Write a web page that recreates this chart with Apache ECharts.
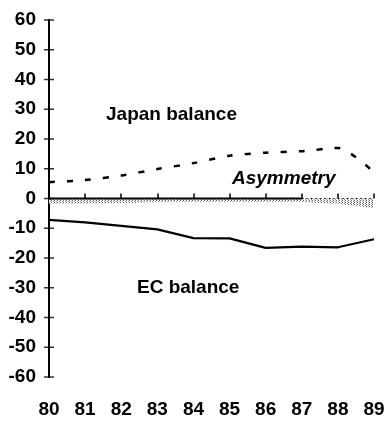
<!DOCTYPE html>
<html>
<head>
<meta charset="utf-8">
<script src="https://cdn.jsdelivr.net/npm/echarts@6/dist/echarts.min.js"></script>
<style>
html,body{margin:0;padding:0;background:#fff;}
#chart{width:390px;height:422px;}
</style>
</head>
<body>
<div id="chart"></div>
<script>
var years = ['80','81','82','83','84','85','86','87','88','89'];
var japanBalance = [5.5, 6.2, 7.7, 9.9, 11.9, 14.4, 15.4, 15.9, 17.0, 8.8];
var ecBalance = [-7.2, -8.0, -9.2, -10.4, -13.3, -13.4, -16.6, -16.2, -16.4, -13.7];
var asymmetry = [-1.7, -1.7, -1.5, -1.3, -1.2, -1.2, -1.2, -1.2, -1.8, -3.2];
var zeroSolid = [0, 0, 0, 0, 0, 0, 0, 0, null, null];
var zeroDotted = [null, null, null, null, null, null, null, 0, 0, 0];
var yTickValues = [-60, -50, -40, -30, -20, -10, 0, 10, 20, 30, 40, 50, 60];
var yTicks = {min: -60, max: 60, interval: 10};

var pat = document.createElement('canvas');
pat.width = 3; pat.height = 2;
var pctx = pat.getContext('2d');
pctx.fillStyle = '#fff'; pctx.fillRect(0,0,3,2);
pctx.fillStyle = '#555'; pctx.fillRect(0,0,1,1);
pctx.fillStyle = '#888'; pctx.fillRect(2,1,1,1);

var font = '"Liberation Sans", Arial, sans-serif';
var chart = echarts.init(document.getElementById('chart'), null, {renderer: 'canvas'});
chart.setOption({
  animation: false,
  backgroundColor: '#fff',
  grid: {left: 49, right: 16, top: 20, bottom: 45},
  xAxis: [{
    type: 'category', data: years, boundaryGap: false, position: 'bottom',
    axisLine: {show: false, onZero: false}, axisTick: {show: false},
    axisLabel: {interval: 0, margin: 23, color: '#000', fontSize: 19, fontWeight: 'bold', fontFamily: font},
    splitLine: {show: false}
  }, {
    type: 'category', data: years, boundaryGap: false, position: 'top',
    axisLine: {show: true, onZero: true, lineStyle: {color: 'rgba(0,0,0,0)'}},
    axisTick: {show: true, inside: false, length: 5, interval: 0, lineStyle: {color: '#000', width: 1.5}},
    axisLabel: {show: false}, splitLine: {show: false}
  }],
  yAxis: [{
    type: 'value', min: yTicks.min, max: yTicks.max, interval: yTicks.interval, position: 'left',
    axisLine: {show: true, onZero: false, lineStyle: {color: '#000', width: 2}},
    axisTick: {show: false},
    axisLabel: {margin: 13, color: '#000', fontSize: 19, fontWeight: 'bold', fontFamily: font},
    splitLine: {show: false}
  }],
  series: [{
    name: 'Asymmetry', type: 'line', data: asymmetry,
    showSymbol: false, lineStyle: {width: 0},
    areaStyle: {color: {image: pat, repeat: 'repeat'}, opacity: 1}, z: 1
  }, {
    name: 'zero', type: 'line', data: zeroSolid, showSymbol: false,
    lineStyle: {color: '#000', width: 2}, z: 3
  }, {
    name: 'zero2', type: 'line', data: zeroDotted, showSymbol: false,
    lineStyle: {color: '#000', width: 1.2, type: [1.5, 3]}, z: 3
  }, {
    name: 'Japan balance', type: 'line', data: japanBalance, showSymbol: false, smooth: 0.25,
    lineStyle: {color: '#000', width: 2.5, type: [6, 12]}, z: 4
  }, {
    name: 'EC balance', type: 'line', data: ecBalance, showSymbol: false,
    lineStyle: {color: '#000', width: 2.2}, z: 4
  }, {
    name: 'yTicks', type: 'scatter', clip: false, silent: true,
    data: yTickValues.map(function (v) { return [years[0], v]; }),
    symbol: 'rect', symbolSize: [10, 1.5],
    itemStyle: {color: '#000'}, z: 5
  }],
  graphic: [{
    type: 'text', left: 106, top: 105,
    style: {text: 'Japan balance', fill: '#000', font: 'bold 19px ' + font}
  }, {
    type: 'text', left: 137, top: 278,
    style: {text: 'EC balance', fill: '#000', font: 'bold 19px ' + font}
  }, {
    type: 'text', left: 232, top: 169,
    style: {text: 'Asymmetry', fill: '#000', font: 'italic bold 19px ' + font}
  }]
});
</script>
</body>
</html>
